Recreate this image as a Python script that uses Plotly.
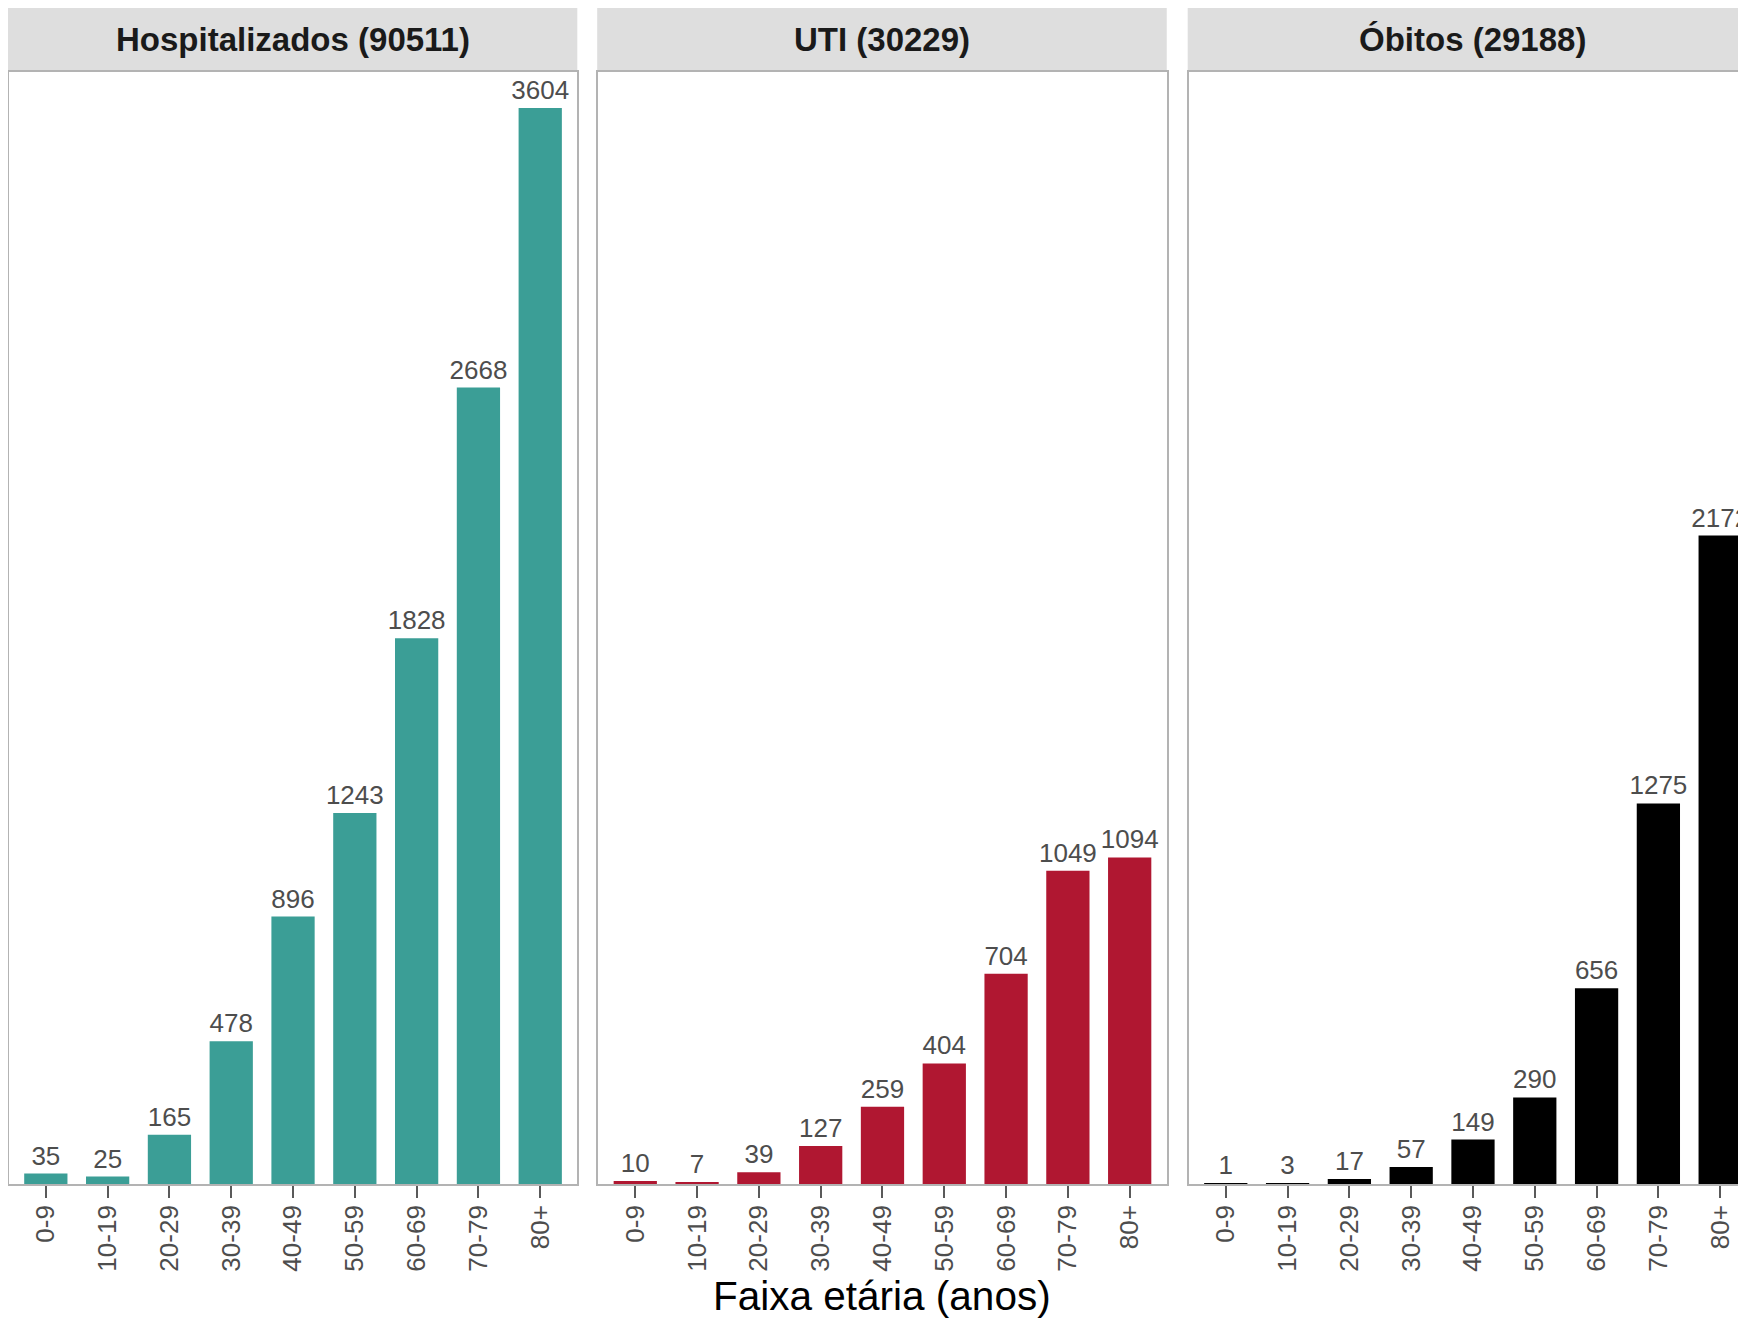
import plotly.graph_objects as go

categories = ['0-9', '10-19', '20-29', '30-39', '40-49', '50-59', '60-69', '70-79', '80+']
hospitalizados = [35, 25, 165, 478, 896, 1243, 1828, 2668, 3604]
uti = [10, 7, 39, 127, 259, 404, 704, 1049, 1094]
obitos = [1, 3, 17, 57, 149, 290, 656, 1275, 2172]
panel_titles = ['Hospitalizados (90511)', 'UTI (30229)', 'Óbitos (29188)']
series = [hospitalizados, uti, obitos]
colors = ['#3B9E96', '#B01731', '#000000']
x_title = 'Faixa etária (anos)'

# page body has an 8px margin; lay out in window pixels and shift
OFF = 8
WIN_W, WIN_H = 1746, 1321
W, H = WIN_W - OFF, WIN_H - OFF
ML, MR = 0, 0
MT = 71.7 - OFF
MB = WIN_H - 1184
PW = W - ML - MR
PH = H - MT - MB

def px_x(p):
    return max(0.0, (p - OFF - ML) / PW)

def px_y(p):
    return (WIN_H - MB - p) / PH

unit = 61.8
panel_left = [8.75, 598.2, 1188.7]
panel_w = 9.2 * unit

FONT = 'Liberation Sans, Arial, Helvetica, sans-serif'
border = '#b3b3b3'

fig = go.Figure()
ymax = 3725

for i, (vals, col) in enumerate(zip(series, colors)):
    n = '' if i == 0 else str(i + 1)
    fig.add_trace(go.Bar(
        x=categories, y=vals, text=[str(v) for v in vals],
        textposition='outside', constraintext='none', cliponaxis=True,
        textfont=dict(size=26, color='#4d4d4d', family=FONT),
        marker=dict(color=col, line=dict(width=0)), width=0.7,
        xaxis='x' + n, yaxis='y' + n, showlegend=False, hoverinfo='x+y'))
    x0 = panel_left[i]
    x1 = min(x0 + panel_w, WIN_W)
    rng_hi = -0.6 + (x1 - x0) / unit
    fig.layout['xaxis' + n] = dict(
        domain=[px_x(x0), min(1.0, px_x(x1))], anchor='y' + n, type='category',
        range=[-0.6, rng_hi], showline=True, linecolor=border, linewidth=1.5,
        mirror=True, ticks='outside', ticklen=12, tickwidth=1.5, tickcolor='#5a5a5a',
        tickangle=-90, tickfont=dict(size=26, color='#4d4d4d', family=FONT),
        ticklabelstandoff=-3,
        showgrid=False, zeroline=False, fixedrange=True)
    fig.layout['yaxis' + n] = dict(
        domain=[0, 1], anchor='x' + n, range=[0, ymax],
        showline=True, linecolor=border, linewidth=1.5, mirror=(i < 2),
        showticklabels=False, ticks='', showgrid=False, zeroline=False, fixedrange=True)
    # strip
    fig.add_shape(type='rect', xref='paper', yref='paper',
                  x0=px_x(x0 - 1), x1=min(1.0, px_x(x1)), y0=px_y(71.5), y1=px_y(7.3),
                  fillcolor='#dedede', line=dict(width=0), layer='below')
    fig.add_annotation(xref='paper', yref='paper', x=px_x(x0 + panel_w / 2), y=px_y(39),
                       text=panel_titles[i], showarrow=False, xanchor='center', yanchor='middle',
                       font=dict(size=33, color='#1a1a1a', family=FONT, weight='bold'))

fig.add_annotation(xref='paper', yref='paper', x=px_x(882), y=px_y(1321),
                   text=x_title, showarrow=False, xanchor='center', yanchor='bottom',
                   font=dict(size=40.5, color='#000000', family=FONT))

fig.update_layout(width=W, height=H, margin=dict(l=ML, r=MR, t=MT, b=MB),
                  paper_bgcolor='white', plot_bgcolor='white', bargap=0.3)

fig.write_html('out.html')
